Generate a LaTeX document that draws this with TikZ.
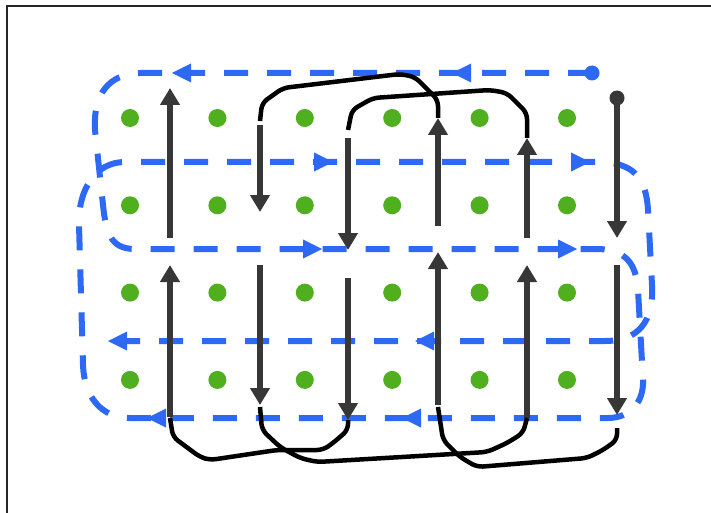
\documentclass[tikz,border=0pt]{standalone}
\usetikzlibrary{arrows.meta}
\definecolor{scanblue}{RGB}{45,105,245}
\definecolor{dotgreen}{RGB}{80,175,30}
\definecolor{arrowgray}{RGB}{55,55,55}
\begin{document}
\begin{tikzpicture}[x=1pt,y=-1pt]
	% styles
	\tikzstyle{frame} = [draw=black!85,line width=2.5pt]
	\tikzstyle{blueline} = [draw=scanblue,line width=6pt,dash pattern=on 24pt off 19pt]
	\tikzstyle{bluetip} = [fill=scanblue]
	\tikzstyle{colarrow} = [draw=arrowgray,line width=5.5pt,-{Triangle[length=17pt,width=19pt]}]
	\tikzstyle{link} = [draw=black,line width=4.5pt,rounded corners=6pt,line join=round]
	
	% bounding box
	\path[use as bounding box] (0,0) rectangle (711,513);
	
	% frame
	\draw[frame] (7,513) -- (7,6) -- (711,6);
	
	% grid points
	\foreach \i in {0,...,5}
	\foreach \j in {0,...,3}
	{
		\fill[dotgreen] ({130+87.4*\i},{118+87.3*\j}) circle (9pt);
	}
	
	% row scan (blue)
	\draw[blueline] (592,73) -- (140,73)
		.. controls (108,74) and (93,95) .. (95,130)
		-- (103,205) .. controls (106,235) and (112,249) .. (135,249)
		-- (600,249) .. controls (625,251) and (636,262) .. (638,290)
		-- (643,380) .. controls (644,402) and (630,418) .. (608,418)
		-- (130,418) .. controls (100,418) and (84,395) .. (83,365)
		-- (79,225) .. controls (78,190) and (95,162) .. (125,162)
		-- (600,162) .. controls (632,163) and (646,176) .. (648,210)
		-- (652,285) .. controls (654,322) and (638,341) .. (605,341)
		-- (118,341);
	\fill[scanblue] (592,73) circle (7.5pt);
	\foreach \x/\y/\d in {452/73/1,172/73/1,147/418/1,402/418/1,415/341/1,108/341/1,
		333/162/-1,590/162/-1,322/249/-1,577/249/-1}
	{
		\path[bluetip] (\x,\y) -- ++({19*\d},-9.5) -- ++(0,19) -- cycle;
	}
	
	% column scan (gray)
	\foreach \x/\a/\b in {170/417/265,170/238/88,260/125/212,260/265/405,
		348/138/250,348/278/420,438/226/118,438/405/252,
		527/238/138,527/418/265,617/98/238,617/265/415}
	{
		\draw[colarrow] (\x,\a) -- (\x,\b);
	}
	\fill[arrowgray] (617,98) circle (7.5pt);
	
	% links between columns
	\draw[link] (438,118) -- (438,100) -- (415,77) -- (400,74) -- (283,88) -- (262,103) -- (260,121);
	\draw[link] (527,138) -- (527,113) -- (507,93) -- (490,90) -- (373,98) -- (352,110) -- (348,130);
	\draw[link] (348,420) -- (348,430) -- (333,443) -- (323,450) -- (277,450) -- (210,460)
		-- (200,457) -- (173,437) -- (170,418);
	\draw[link] (260,407) -- (262,430) -- (280,447) -- (300,458) -- (317,462) -- (487,452)
		-- (507,443) -- (523,433) -- (527,418);
	\draw[link] (617,428) -- (617,440) -- (603,450) -- (587,458) -- (477,467) -- (460,457)
		-- (443,440) -- (438,407);
\end{tikzpicture}
\end{document}
